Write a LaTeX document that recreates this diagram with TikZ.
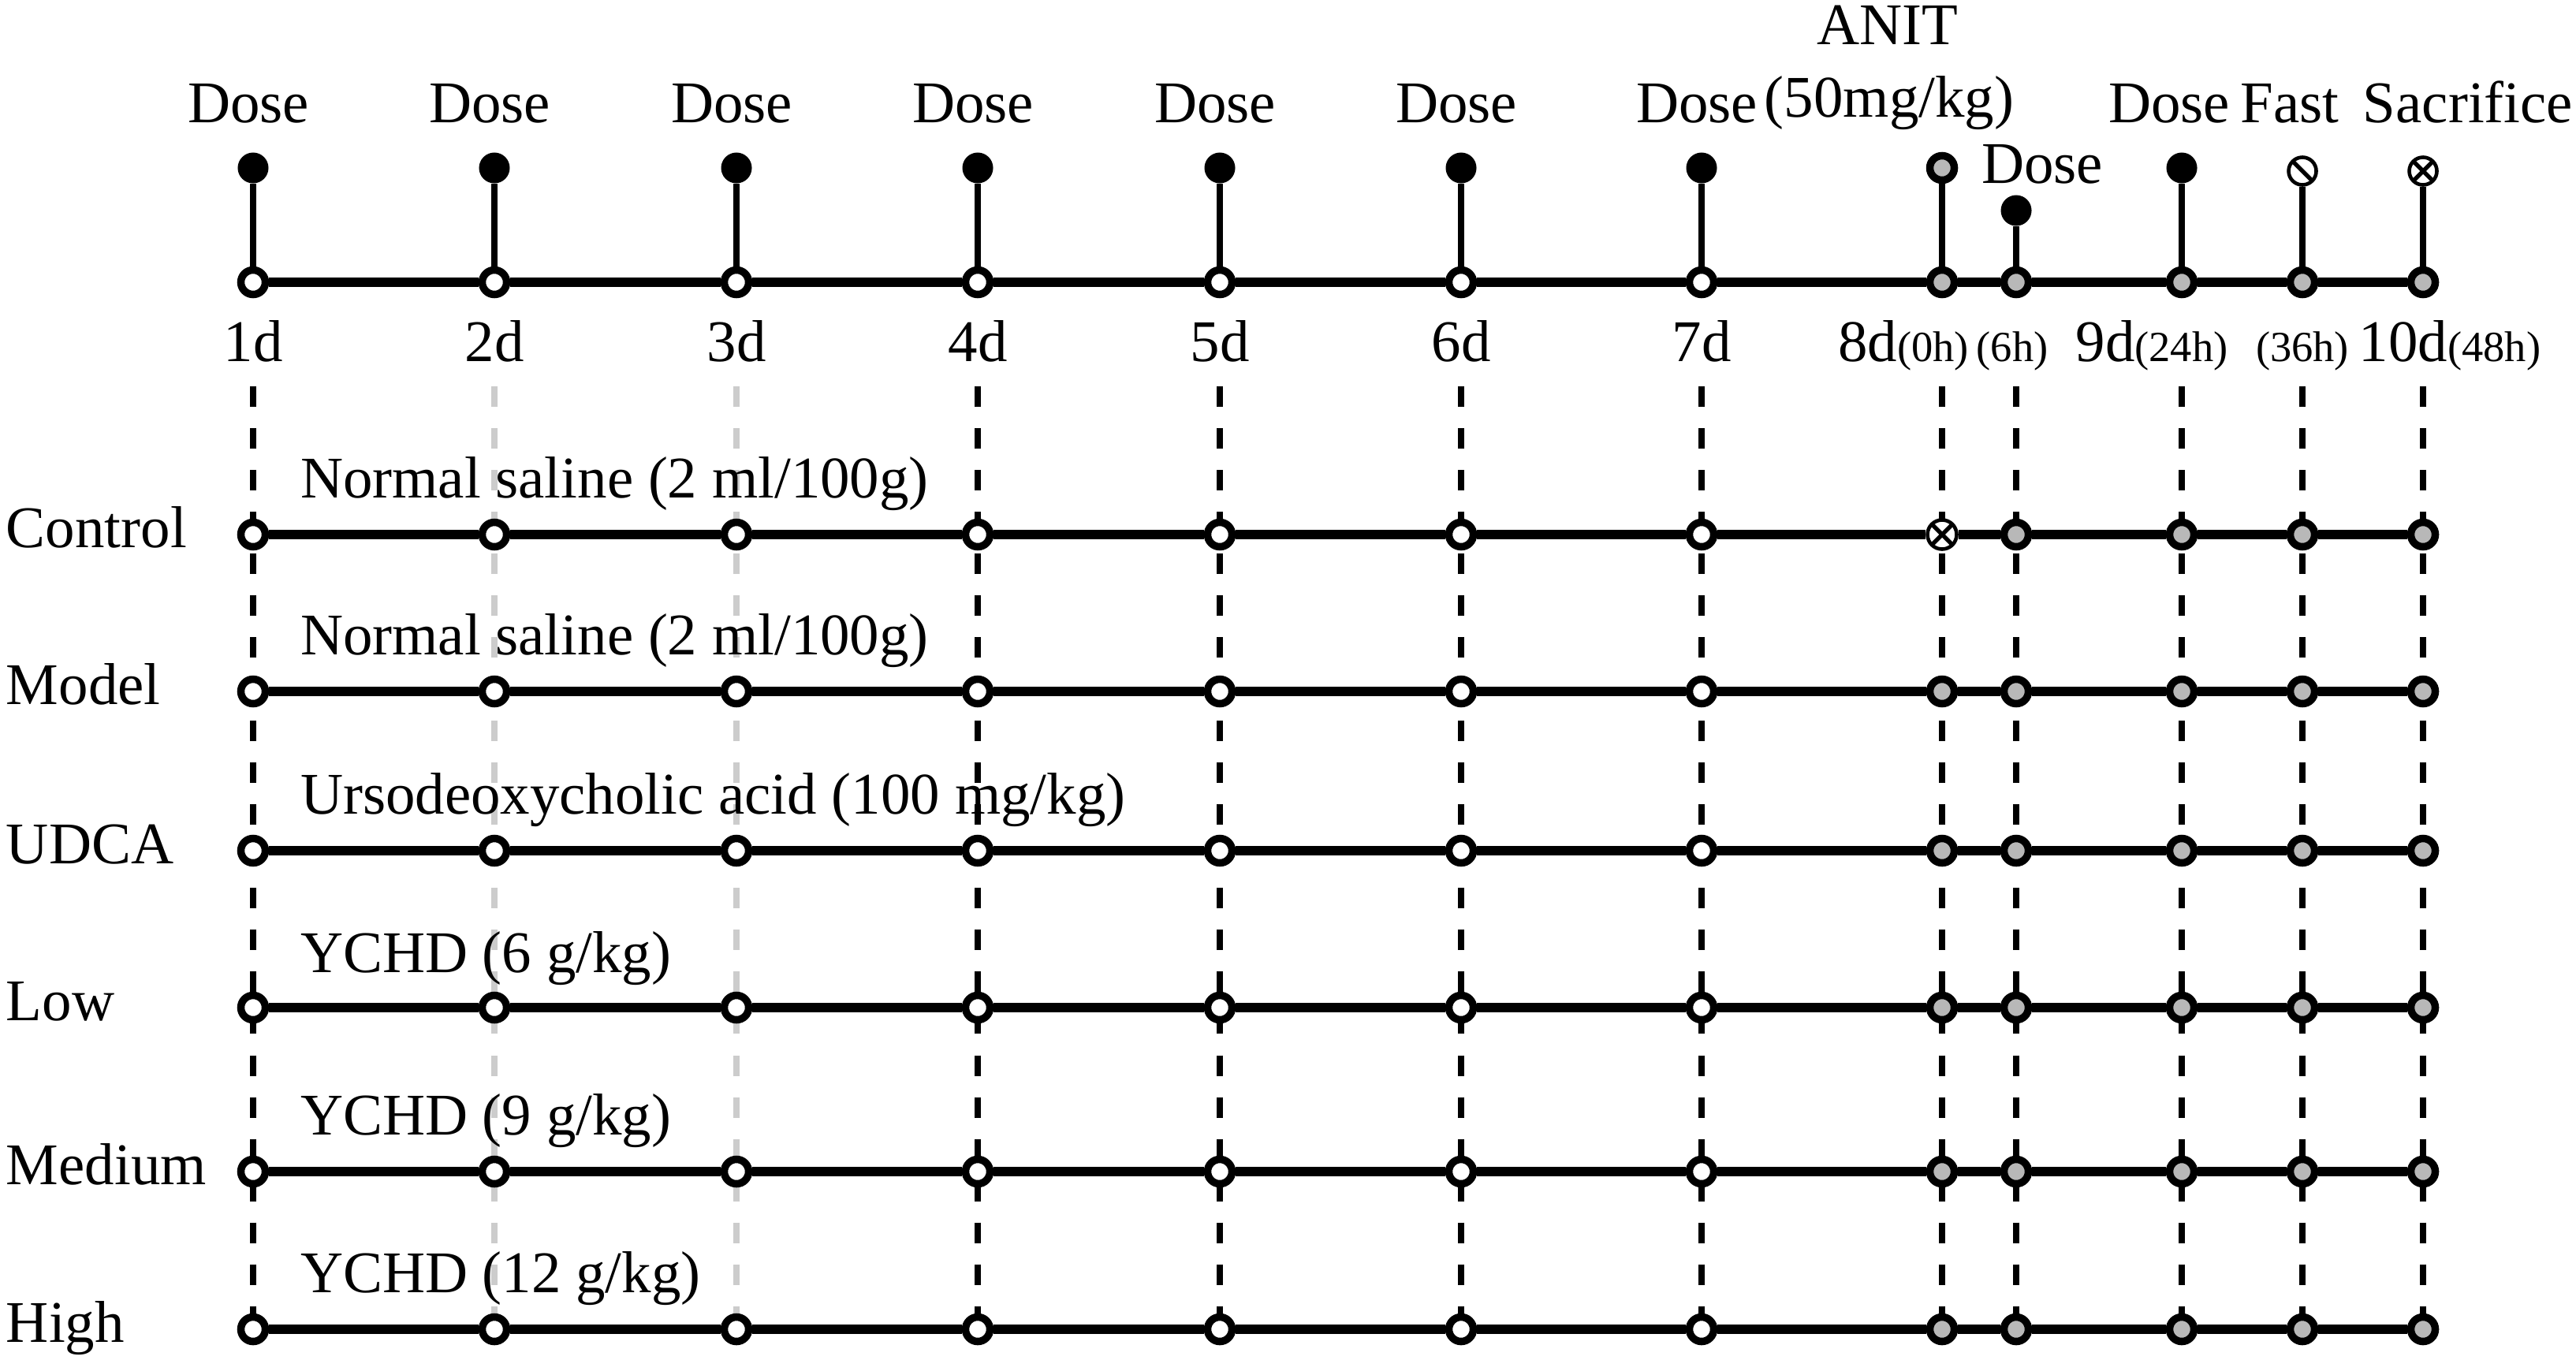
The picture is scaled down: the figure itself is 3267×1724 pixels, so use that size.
\documentclass[tikz,border=0pt]{standalone}
\usepackage{fontspec}
\setmainfont{Liberation Serif}
\usetikzlibrary{backgrounds}
\newcommand\bigsz{\fontsize{21.3}{25}\selectfont}
\newcommand\smsz{\fontsize{15.5}{18}\selectfont}
\definecolor{gfill}{HTML}{B8B8B8}
\definecolor{gdash}{HTML}{CCCCCC}
\tikzset{
 lbl/.style={inner sep=0, outer sep=0, anchor=base, font=\bigsz},
 lblw/.style={lbl, anchor=base west},
 opn/.style={circle, draw, line width=2.7pt, fill=white, minimum size=0.31cm, inner sep=0},
 gop/.style={opn, fill=gfill},
 dosedot/.style={circle, fill=black, minimum size=0.39cm, inner sep=0},
 xsym/.style={circle, draw, line width=1.3pt, fill=white, minimum size=0.35cm, inner sep=0,
   path picture={\draw[line width=1.5pt] (path picture bounding box.north west) -- (path picture bounding box.south east)
     (path picture bounding box.north east) -- (path picture bounding box.south west);}},
 slsym/.style={circle, draw, line width=1.3pt, fill=white, minimum size=0.35cm, inner sep=0,
   path picture={\draw[line width=1.5pt] (path picture bounding box.north west) -- (path picture bounding box.south east);}},
 axis/.style={line width=3.5pt},
 stem/.style={line width=2.4pt},
 vdash/.style={line width=2.3pt, dash pattern=on 0.26cm off 0.27cm},
}
\def\cols{1/321,2/627,3/934,4/1240,5/1547,6/1853,7/2158}
\def\gcols{8/2463,h6/2557,9/2767,h36/2920,10/3073}
\def\gcolsb{h6/2557,9/2767,h36/2920,10/3073}
\begin{document}
\begin{tikzpicture}[x=0.01cm, y=-0.01cm]
\useasboundingbox (0,0) rectangle (3267,1724);

% ---- top timeline ----
\foreach \n/\x in \cols { \node[opn] (t\n) at (\x,358) {}; }
\foreach \n/\x in \gcols { \node[gop] (t\n) at (\x,358) {}; }
\draw[axis] (t1) -- (t2) -- (t3) -- (t4) -- (t5) -- (t6) -- (t7) -- (t8) -- (th6) -- (t9) -- (th36) -- (t10);

\foreach \n/\x in \cols {
  \node[dosedot] (s\n) at (\x,213) {};
  \draw[stem] (t\n) -- (s\n);
  \node[lbl] (d\n) at (\x-6,155) {Dose};
  \node[lbl] (l\n) at (\x,458) {\n{}d};
}
\node[gop] (s8) at (2463,213) {};
\node[dosedot] (sh6) at (2557,267) {};
\node[dosedot] (s9) at (2767,213) {};
\node[slsym] (sh36) at (2920,217) {};
\node[xsym] (s10) at (3073,217) {};
\foreach \n in {8,h6,9,h36,10} { \draw[stem] (t\n) -- (s\n); }

\node[lbl] (anit) at (2394,57) {ANIT};
\node[lbl] (anitd) at (2396,148) {(50mg/kg)};
\node[lblw] (dh6) at (2513,232) {Dose};
\node[lbl] (d9) at (2751,155) {Dose};
\node[lbl] (fast) at (2904,155) {Fast};
\node[lbl] (sac) at (3130,155) {Sacrifice};

\node[lbl] (l8) at (2414,458) {8d{\smsz(0h)}};
\node[lbl] (lh6) at (2552,458) {\smsz(6h)};
\node[lbl] (l9) at (2729,458) {9d{\smsz(24h)}};
\node[lbl] (lh36) at (2920,458) {\smsz(36h)};
\node[lbl] (l10) at (3107,458) {10d{\smsz(48h)}};

% ---- group rows ----
\foreach \n/\x in \cols { \node[opn] (r1-\n) at (\x,678) {}; }
\node[xsym, minimum size=0.37cm] (r1-8) at (2463,678) {};
\foreach \n/\x in \gcolsb { \node[gop] (r1-\n) at (\x,678) {}; }
\foreach \r/\y in {2/877,3/1079,4/1278,5/1486,6/1686} {
  \foreach \n/\x in \cols { \node[opn] (r\r-\n) at (\x,\y) {}; }
  \foreach \n/\x in \gcols { \node[gop] (r\r-\n) at (\x,\y) {}; }
}
\foreach \r in {1,...,6} {
  \draw[axis] (r\r-1) -- (r\r-2) -- (r\r-3) -- (r\r-4) -- (r\r-5) -- (r\r-6) -- (r\r-7)
    -- (r\r-8) -- (r\r-h6) -- (r\r-9) -- (r\r-h36) -- (r\r-10);
}

% ---- dashed guides ----
\begin{scope}[on background layer]
\foreach \n/\x/\c in {1/321/black,2/627/gdash,3/934/gdash,4/1240/black,5/1547/black,6/1853/black,7/2158/black,8/2463/black,h6/2557/black,9/2767/black,h36/2920/black,10/3073/black} {
  \coordinate (v\n) at (\x,490);
  \draw[vdash, draw=\c] (v\n) -- (r6-\n.center);
}
\end{scope}

% ---- row labels ----
\node[lblw] (n1) at (8,694) {Control};
\node[lblw] (n2) at (8,893) {Model};
\node[lblw] (n3) at (8,1095) {UDCA};
\node[lblw] (n4) at (8,1294) {Low};
\node[lblw] (n5) at (8,1502) {Medium};
\node[lblw] (n6) at (8,1702) {High};

\node[lblw] (g1) at (381,631) {Normal saline (2 ml/100g)};
\node[lblw] (g2) at (381,830) {Normal saline (2 ml/100g)};
\node[lblw] (g3) at (381,1032) {Ursodeoxycholic acid (100 mg/kg)};
\node[lblw] (g4) at (381,1233) {YCHD (6 g/kg)};
\node[lblw] (g5) at (381,1439) {YCHD (9 g/kg)};
\node[lblw] (g6) at (381,1639) {YCHD (12 g/kg)};
\end{tikzpicture}
\end{document}
